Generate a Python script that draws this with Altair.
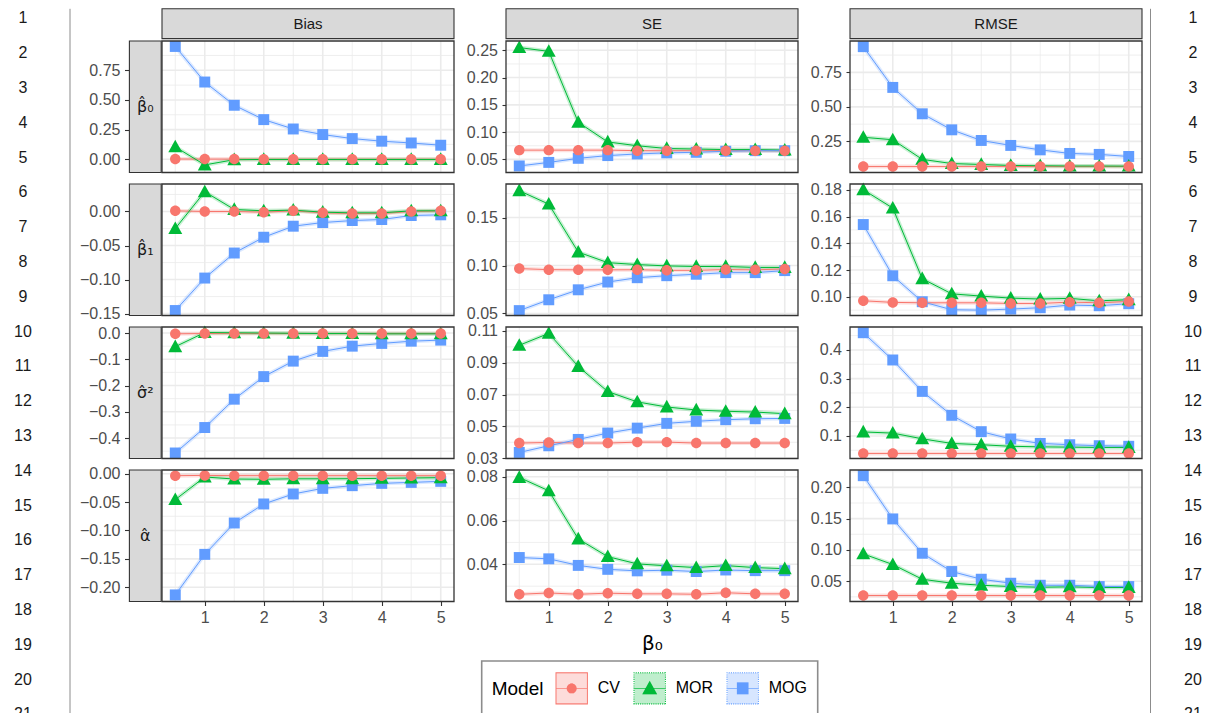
import altair as alt
import pandas as pd

# ---------------- data ----------------
X_VALUES = [0.5, 1.0, 1.5, 2.0, 2.5, 3.0, 3.5, 4.0, 4.5, 5.0]
MODELS = ["CV", "MOR", "MOG"]
COLORS = ["#F8766D", "#00BA38", "#619CFF"]
PARAM_LABELS = ["β̂₀", "β̂₁", "σ̂²", "α̂"]
METRICS = ["Bias", "SE", "RMSE"]
X_TITLE = "β₀"
LINE_NUMBERS = list(range(1, 22))
X_MAJOR = [1, 2, 3, 4, 5]
X_MINOR = [0.5, 1.5, 2.5, 3.5, 4.5]

# beta0
BIAS_B0_CV = [0.002, 0.001, 0.001, 0.000, 0.000, 0.000, 0.000, 0.000, 0.000, 0.000]
BIAS_B0_MOR = [0.104, -0.048, -0.004, -0.002, -0.002, -0.002, -0.002, -0.002, -0.002, -0.002]
BIAS_B0_MOG = [0.951, 0.651, 0.455, 0.334, 0.255, 0.208, 0.174, 0.152, 0.137, 0.118]
SE_B0_CV = [0.067, 0.067, 0.067, 0.067, 0.066, 0.066, 0.066, 0.066, 0.066, 0.066]
SE_B0_MOR = [0.255, 0.248, 0.118, 0.082, 0.075, 0.070, 0.069, 0.068, 0.068, 0.067]
SE_B0_MOG = [0.038, 0.0445, 0.052, 0.057, 0.060, 0.062, 0.063, 0.065, 0.066, 0.066]
RMSE_B0_CV = [0.068, 0.068, 0.068, 0.068, 0.068, 0.068, 0.068, 0.068, 0.068, 0.068]
RMSE_B0_MOR = [0.280, 0.262, 0.120, 0.090, 0.083, 0.076, 0.074, 0.072, 0.072, 0.071]
RMSE_B0_MOG = [0.936, 0.641, 0.450, 0.334, 0.257, 0.221, 0.189, 0.163, 0.156, 0.141]
# beta1
BIAS_B1_CV = [0.001, 0.000, 0.000, -0.001, 0.001, -0.002, -0.003, -0.003, 0.000, 0.001]
BIAS_B1_MOR = [-0.025, 0.029, 0.003, 0.001, 0.002, -0.001, -0.002, -0.002, 0.001, 0.001]
BIAS_B1_MOG = [-0.1455, -0.0978, -0.061, -0.0378, -0.0216, -0.0162, -0.0133, -0.0118, -0.0059, -0.0049]
SE_B1_CV = [0.0968, 0.0957, 0.0955, 0.0955, 0.0956, 0.0950, 0.0950, 0.0958, 0.0955, 0.0965]
SE_B1_MOR = [0.178, 0.164, 0.114, 0.103, 0.101, 0.0996, 0.099, 0.099, 0.098, 0.098]
SE_B1_MOG = [0.053, 0.0643, 0.0747, 0.0828, 0.0873, 0.0894, 0.0909, 0.0926, 0.0926, 0.0947]
RMSE_B1_CV = [0.097, 0.0958, 0.0955, 0.0955, 0.0955, 0.0950, 0.0950, 0.0960, 0.0955, 0.0965]
RMSE_B1_MOR = [0.180, 0.1663, 0.1135, 0.1022, 0.1005, 0.099, 0.0983, 0.0988, 0.097, 0.0978]
RMSE_B1_MOG = [0.154, 0.1157, 0.0963, 0.0903, 0.0900, 0.0908, 0.0918, 0.0938, 0.0933, 0.0948]
# sigma^2
BIAS_S2_CV = [-0.003, -0.002, -0.002, -0.002, -0.002, -0.002, -0.002, -0.002, -0.002, -0.002]
BIAS_S2_MOR = [-0.052, 0.002, 0.001, 0.000, -0.001, -0.002, -0.002, -0.003, -0.003, -0.003]
BIAS_S2_MOG = [-0.457, -0.360, -0.252, -0.166, -0.107, -0.070, -0.050, -0.0395, -0.031, -0.027]
SE_S2_CV = [0.0395, 0.0399, 0.0395, 0.0395, 0.0401, 0.0401, 0.0395, 0.0395, 0.0395, 0.0395]
SE_S2_MOR = [0.101, 0.1085, 0.0877, 0.0719, 0.0654, 0.0622, 0.0603, 0.0595, 0.059, 0.058]
SE_S2_MOG = [0.0336, 0.0378, 0.0418, 0.0458, 0.0489, 0.0519, 0.0532, 0.0542, 0.0548, 0.055]
RMSE_S2_CV = [0.039, 0.039, 0.039, 0.039, 0.039, 0.039, 0.039, 0.039, 0.039, 0.039]
RMSE_S2_MOR = [0.114, 0.110, 0.090, 0.074, 0.0695, 0.064, 0.062, 0.061, 0.060, 0.060]
RMSE_S2_MOG = [0.460, 0.365, 0.2554, 0.172, 0.115, 0.0895, 0.074, 0.0695, 0.066, 0.064]
# alpha
BIAS_A_CV = [-0.0035, -0.003, -0.0035, -0.0035, -0.0035, -0.0035, -0.0035, -0.0035, -0.0035, -0.0035]
BIAS_A_MOR = [-0.0457, -0.0058, -0.0094, -0.0098, -0.009, -0.009, -0.0088, -0.0082, -0.0076, -0.007]
BIAS_A_MOG = [-0.2134, -0.142, -0.0868, -0.0533, -0.0357, -0.0258, -0.0211, -0.017, -0.0153, -0.0135]
SE_A_CV = [0.0263, 0.0269, 0.0263, 0.0268, 0.0265, 0.0265, 0.0263, 0.027, 0.0265, 0.0265]
SE_A_MOR = [0.0797, 0.0736, 0.0516, 0.0435, 0.0402, 0.0393, 0.0385, 0.0394, 0.0385, 0.038]
SE_A_MOG = [0.0431, 0.0425, 0.0395, 0.0377, 0.037, 0.0373, 0.0367, 0.0374, 0.0371, 0.0371]
RMSE_A_CV = [0.0272, 0.0272, 0.0272, 0.0272, 0.0272, 0.0272, 0.0272, 0.0272, 0.0272, 0.0272]
RMSE_A_MOR = [0.0937, 0.0767, 0.0532, 0.0468, 0.0436, 0.0415, 0.0404, 0.041, 0.040, 0.040]
RMSE_A_MOG = [0.2187, 0.1496, 0.0947, 0.0655, 0.0532, 0.0468, 0.0436, 0.0436, 0.0415, 0.0415]

SERIES = {
    (0, 0): (BIAS_B0_CV, BIAS_B0_MOR, BIAS_B0_MOG),
    (0, 1): (SE_B0_CV, SE_B0_MOR, SE_B0_MOG),
    (0, 2): (RMSE_B0_CV, RMSE_B0_MOR, RMSE_B0_MOG),
    (1, 0): (BIAS_B1_CV, BIAS_B1_MOR, BIAS_B1_MOG),
    (1, 1): (SE_B1_CV, SE_B1_MOR, SE_B1_MOG),
    (1, 2): (RMSE_B1_CV, RMSE_B1_MOR, RMSE_B1_MOG),
    (2, 0): (BIAS_S2_CV, BIAS_S2_MOR, BIAS_S2_MOG),
    (2, 1): (SE_S2_CV, SE_S2_MOR, SE_S2_MOG),
    (2, 2): (RMSE_S2_CV, RMSE_S2_MOR, RMSE_S2_MOG),
    (3, 0): (BIAS_A_CV, BIAS_A_MOR, BIAS_A_MOG),
    (3, 1): (SE_A_CV, SE_A_MOR, SE_A_MOG),
    (3, 2): (RMSE_A_CV, RMSE_A_MOR, RMSE_A_MOG),
}

# y scales: domain, tick labels, format
Y_DOMAINS = {
    (0, 0): [-0.112, 0.997], (0, 1): [0.026, 0.267], (0, 2): [0.025, 0.977],
    (1, 0): [-0.1528, 0.0404], (1, 1): [0.0479, 0.185], (1, 2): [0.086, 0.1843],
    (2, 0): [-0.478, 0.023], (2, 1): [0.0298, 0.1125], (2, 2): [0.0214, 0.48],
    (3, 0): [-0.225, 0.0065], (3, 1): [0.023, 0.0831], (3, 2): [0.0176, 0.2278],
}
Y_TICKS = {
    (0, 0): [0.0, 0.25, 0.5, 0.75], (0, 1): [0.05, 0.10, 0.15, 0.20, 0.25], (0, 2): [0.25, 0.5, 0.75],
    (1, 0): [-0.15, -0.10, -0.05, 0.0], (1, 1): [0.05, 0.10, 0.15], (1, 2): [0.10, 0.12, 0.14, 0.16, 0.18],
    (2, 0): [-0.4, -0.3, -0.2, -0.1, 0.0], (2, 1): [0.03, 0.05, 0.07, 0.09, 0.11], (2, 2): [0.1, 0.2, 0.3, 0.4],
    (3, 0): [-0.20, -0.15, -0.10, -0.05, 0.0], (3, 1): [0.04, 0.06, 0.08], (3, 2): [0.05, 0.10, 0.15, 0.20],
}
Y_FORMATS = {(2, 0): ".1f", (2, 2): ".1f"}

# ---------------- style ----------------
FONT = "Liberation Sans"
GRID = "#EBEBEB"
BORDER = "#333333"
W, H = 292, 131.5
STRIP_TOP = -32.2
X_DOMAIN = [0.275, 5.225]
PT_SIZE = 1100
LEG_SIZE = 1050

CIRCLE = "M0.316,0A0.316,0.316 0 1,1 -0.316,0A0.316,0.316 0 1,1 0.316,0Z"
TRIANGLE = "M0,-0.43L0.42,0.33L-0.42,0.33Z"
SQUARE = "M-0.33,-0.33H0.33V0.33H-0.33Z"
SHAPES = [CIRCLE, TRIANGLE, SQUARE]


# ---- legend key glyphs (unit box -1..1, scaled to sqrt(LEG_SIZE) px) ----
def rect(x0, y0, x1, y1):
    return "M%.4f,%.4fH%.4fV%.4fH%.4fZ" % (x0, y0, x1, y1, x0)


UNIT_PX = (LEG_SIZE ** 0.5) / 2.0
PX = 1.0 / UNIT_PX          # one pixel in unit coordinates
TH = 1.0 * PX               # outline thickness


def solid_ring():
    return " ".join([rect(-1, -1, 1, -1 + TH), rect(-1, 1 - TH, 1, 1),
                     rect(-1, -1, -1 + TH, 1), rect(1 - TH, -1, 1, 1)])


def dotted_ring():
    parts = []
    pitch, dot = 2.2 * PX, 1.1 * PX
    t = -1.0
    while t < 1.0 - dot * 0.5:
        e = min(t + dot, 1.0)
        parts += [rect(t, -1, e, -1 + TH), rect(t, 1 - TH, e, 1),
                  rect(-1, t, -1 + TH, e), rect(1 - TH, t, 1, e)]
        t += pitch
    return " ".join(parts)


def tint():
    # thin stripes one pixel apart: anti-aliasing renders them as a pale wash
    parts = []
    y = -1 + TH
    while y < 1 - TH:
        parts.append(rect(-1 + TH, y, 1 - TH, min(y + 0.2 * PX, 1 - TH)))
        y += PX
    return " ".join(parts)


MIDLINE = rect(-1 + TH, -0.4 * PX, 1 - TH, 0.4 * PX)
KEY_MARKERS = [
    "M0.31,0A0.31,0.31 0 1,1 -0.31,0A0.31,0.31 0 1,1 0.31,0Z",
    "M0,-0.47L0.46,0.36L-0.46,0.36Z",
    "M-0.36,-0.36H0.36V0.36H-0.36Z",
]
KEY_RINGS = [solid_ring(), dotted_ring(), dotted_ring()]
KEY_SHAPES = [" ".join([tint(), ring, MIDLINE, mk]) for ring, mk in zip(KEY_RINGS, KEY_MARKERS)]

LEGEND = alt.Legend(
    orient="none", legendX=470.7, legendY=620, direction="horizontal",
    title="Model", titleOrient="left", titleFont=FONT, titleFontSize=19,
    titleFontWeight="normal", titleBaseline="middle", titleColor="#000000",
    labelFont=FONT, labelFontSize=16, labelColor="#000000",
    symbolSize=LEG_SIZE, symbolStrokeWidth=1, symbolStrokeColor="transparent", symbolOpacity=1,
    padding=10, titlePadding=11, labelOffset=9, columnPadding=10,
    strokeColor="#8C8C8C",
)

ONE = pd.DataFrame({"a": [0]})


def minor_breaks(major, lo, hi):
    step = major[1] - major[0]
    ext = [major[0] - step] + list(major) + [major[-1] + step]
    mids = [(a + b) / 2 for a, b in zip(ext[:-1], ext[1:])]
    return [m for m in mids if lo <= m <= hi]


def panel(r, c):
    series = SERIES[(r, c)]
    dom = Y_DOMAINS[(r, c)]
    ticks = Y_TICKS[(r, c)]
    fmt = Y_FORMATS.get((r, c), ".2f")

    yaxis = alt.Axis(values=ticks, format=fmt, grid=False, domain=False, tickSize=4,
                     tickColor=BORDER, tickWidth=1.1, labelColor="#4D4D4D",
                     labelFontSize=16, labelFont=FONT, labelPadding=4.5,
                     offset=33.5 if c == 0 else 0, title=None)
    yenc = alt.Y("v:Q", scale=alt.Scale(domain=dom, nice=False, zero=False), axis=yaxis)

    if r == 3:
        xkw = dict(values=X_MAJOR, format="d", grid=False, domain=False, tickSize=4,
                   tickColor=BORDER, tickWidth=1.1, labelColor="#4D4D4D",
                   labelFontSize=16, labelFont=FONT, labelPadding=4)
        if c == 1:
            xaxis = alt.Axis(**xkw, title=X_TITLE, titleFont="DejaVu Sans", titleFontSize=20,
                             titleFontWeight="normal", titleColor="#000000", titlePadding=8)
        else:
            xaxis = alt.Axis(**xkw, title=None)
    else:
        xaxis = None
    xenc = alt.X("x:Q", scale=alt.Scale(domain=X_DOMAIN, nice=False, zero=False), axis=xaxis)

    y_minor = minor_breaks(ticks, dom[0], dom[1])
    layers = [
        alt.Chart(pd.DataFrame({"x": X_MINOR})).mark_rule(color=GRID, strokeWidth=0.8).encode(x=xenc),
        alt.Chart(pd.DataFrame({"v": y_minor})).mark_rule(color=GRID, strokeWidth=0.8).encode(y=yenc),
        alt.Chart(pd.DataFrame({"x": X_MAJOR})).mark_rule(color=GRID, strokeWidth=1.6).encode(x=xenc),
        alt.Chart(pd.DataFrame({"v": ticks})).mark_rule(color=GRID, strokeWidth=1.6).encode(y=yenc),
    ]
    frames = [pd.DataFrame({"x": X_VALUES, "v": vals}) for vals in series]
    for i in range(3):
        layers.append(alt.Chart(frames[i]).mark_line(color=COLORS[i], strokeWidth=4, opacity=0.22)
                      .encode(x=xenc, y=yenc))
    for i in range(3):
        layers.append(alt.Chart(frames[i]).mark_line(color=COLORS[i], strokeWidth=1)
                      .encode(x=xenc, y=yenc))
    for i in (2, 1, 0):  # MOG at the bottom, CV on top
        layers.append(alt.Chart(frames[i]).mark_point(filled=True, size=PT_SIZE, opacity=1,
                                                      shape=SHAPES[i], color=COLORS[i])
                      .encode(x=xenc, y=yenc))
    layers.append(alt.Chart(ONE).mark_rect(fill="transparent", stroke=BORDER, strokeWidth=1.3).encode(
        x=alt.value(0), x2=alt.value(W), y=alt.value(0), y2=alt.value(H)))

    if r == 0 and c == 0:
        # legend carrier (no rows): key glyphs keyed by model
        empty_m = pd.DataFrame({"Model": pd.Series([], dtype=str)})
        layers.append(alt.Chart(empty_m).mark_point(filled=True, size=LEG_SIZE, opacity=1).encode(
            fill=alt.Fill("Model:N", scale=alt.Scale(domain=MODELS, range=COLORS), legend=LEGEND),
            shape=alt.Shape("Model:N", scale=alt.Scale(domain=MODELS, range=KEY_SHAPES),
                            legend=LEGEND)))
    if r == 0:
        layers.append(alt.Chart(ONE).mark_rect(fill="#D9D9D9", stroke=BORDER, strokeWidth=1.1).encode(
            x=alt.value(0), x2=alt.value(W), y=alt.value(STRIP_TOP), y2=alt.value(-2.4)))
        layers.append(alt.Chart(ONE).mark_text(text=METRICS[c], font=FONT, fontSize=15, color="#1A1A1A",
                                               align="center", baseline="middle").encode(
            x=alt.value(W / 2), y=alt.value((STRIP_TOP - 2.4) / 2)))
    if c == 0:
        layers.append(alt.Chart(ONE).mark_rect(fill="#D9D9D9", stroke=BORDER, strokeWidth=1.1).encode(
            x=alt.value(-32.6), x2=alt.value(-0.8), y=alt.value(0), y2=alt.value(H)))
        layers.append(alt.Chart(ONE).mark_text(text=PARAM_LABELS[r], font="DejaVu Sans", fontSize=16,
                                               color="#1A1A1A", align="center", baseline="middle").encode(
            x=alt.value(-16.7), y=alt.value(H / 2)))
    return alt.layer(*layers).properties(width=W, height=H)


def numbers(xpos, linex):
    nums = pd.DataFrame({"n": LINE_NUMBERS})
    txt = alt.Chart(nums).mark_text(font=FONT, fontSize=16, color="#1A1A1A",
                                    align="center", baseline="middle").encode(
        x=alt.value(xpos),
        y=alt.Y("n:Q", scale=alt.Scale(domain=[1, 21], range=[-22.7, 673.3]), axis=None),
        text="n:Q")
    rule = alt.Chart(ONE).mark_rule(color="#8C8C8C", strokeWidth=1).encode(
        x=alt.value(linex), y=alt.value(STRIP_TOP), y2=alt.value(720))
    return alt.layer(txt, rule)


def blank():
    return alt.Chart(ONE).mark_point(opacity=0).encode(
        x=alt.value(0), y=alt.value(0)).properties(width=1, height=H)


cells = []
for r in range(4):
    if r == 0:
        cells.append(numbers(12, 59).properties(width=99, height=H))
    else:
        cells.append(blank())
    for c in range(3):
        cells.append(panel(r, c))
    if r == 0:
        cells.append(numbers(-1, -43.5).properties(width=1, height=H))
    else:
        cells.append(blank())

chart = alt.concat(*cells, columns=5, spacing={"row": 11, "column": 52}, bounds="flush").resolve_scale(
    x="independent", y="independent", shape="shared", fill="shared"
).properties(padding=0).configure_view(strokeWidth=0).configure_legend(strokeWidth=1.6)

chart.save("out.html", embed_options={"renderer": "svg", "actions": False})
